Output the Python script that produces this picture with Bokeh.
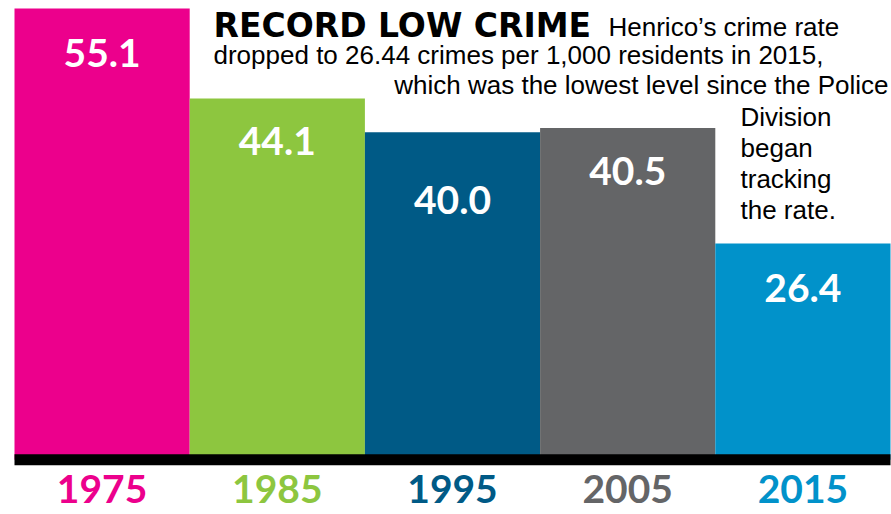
from bokeh.plotting import figure
from bokeh.models import Range1d, ColumnDataSource
from bokeh.core.properties import value
from bokeh.embed import file_html
from bokeh.resources import INLINE

# ---- data ----
years = ["1975", "1985", "1995", "2005", "2015"]
rates = [55.1, 44.1, 40.0, 40.5, 26.4]
rate_labels = ["55.1", "44.1", "40.0", "40.5", "26.4"]
colors = ["#EC008C", "#8DC63F", "#005A86", "#646567", "#0192CA"]

title_bold = "RECORD LOW CRIME"
title_lines = [
    "Henrico\u2019s crime rate",
    "dropped to 26.44 crimes per 1,000 residents in 2015,",
    "which was the lowest level since the Police",
]
side_lines = ["Division", "began", "tracking", "the rate."]

# ---- style / layout ----
W, H = 891, 514
PX_PER_BAR = 175.2          # pixels per category
PX_PER_UNIT = 8.188         # pixels per crime-rate unit
LEFT_PAD_PX = 14            # gap before first bar
TOP_PAD_PX = 8              # gap above tallest bar
BASE_FIX = 0.31             # em shift of alphabetic baseline in renderer
label_drop_px = [57, 55, 80, 55, 57]  # value label baseline below bar top

x_start = -0.5 - LEFT_PAD_PX / PX_PER_BAR
x_end = x_start + W / PX_PER_BAR
y_end = max(rates) + TOP_PAD_PX / PX_PER_UNIT
y_start = y_end - H / PX_PER_UNIT

def X(px):  # page px -> data x
    return x_start + px / PX_PER_BAR

def Y(py, size=0):  # page baseline px -> data y
    return y_end - (py - BASE_FIX * size) / PX_PER_UNIT

p = figure(width=W, height=H, output_backend="svg", toolbar_location=None,
           x_range=Range1d(x_start, x_end), y_range=Range1d(y_start, y_end),
           x_axis_type=None, y_axis_type=None, min_border=0,
           outline_line_color=None, background_fill_color="white",
           border_fill_color="white")
p.grid.visible = False

idx = list(range(len(years)))
VAL_SIZE = 39
src = ColumnDataSource(dict(x=idx, top=rates, color=colors, year=years,
                            lab=rate_labels,
                            lab_off=[d - BASE_FIX * VAL_SIZE for d in label_drop_px]))

p.vbar(x="x", top="top", bottom=0, width=1.0, color="color", source=src,
       line_color=None)

# baseline
p.segment(x0=[-0.5], x1=[len(years) - 0.5], y0=[0], y1=[0],
          line_color="black", line_width=11, line_cap="butt")

# value labels
p.text(x="x", y="top", text="lab", source=src, text_color="white",
       text_font=value("Lato"), text_font_style="bold",
       text_font_size=f"{VAL_SIZE}px", text_align="center",
       text_baseline="alphabetic", y_offset="lab_off")

# year labels
YEAR_SIZE = 39
p.text(x="x", y=Y(501, YEAR_SIZE), text="year", source=src, text_color="color",
       text_font=value("Lato"), text_font_style="bold",
       text_font_size=f"{YEAR_SIZE}px", text_align="center",
       text_baseline="alphabetic")

# headline
HEAD_SIZE = 33
p.text(x=[X(213)], y=[Y(35, HEAD_SIZE)], text=[title_bold], text_color="black",
       text_font=value("DejaVu Sans"), text_font_style="bold",
       text_font_size=f"{HEAD_SIZE}px", text_baseline="alphabetic")

BODY = 26
body_font = value("Liberation Sans")
p.text(x=[X(608)], y=[Y(35, BODY)], text=[title_lines[0]], text_color="black",
       text_font=body_font, text_font_size=f"{BODY}px", text_baseline="alphabetic")
p.text(x=[X(213)], y=[Y(63, BODY)], text=[title_lines[1]], text_color="black",
       text_font=body_font, text_font_size=f"{BODY}px", text_baseline="alphabetic")
p.text(x=[X(888)], y=[Y(93, BODY)], text=[title_lines[2]], text_color="black",
       text_font=body_font, text_font_size=f"{BODY}px", text_baseline="alphabetic",
       text_align="right")
p.text(x=[X(740)] * len(side_lines),
       y=[Y(125 + 31 * i, BODY) for i in range(len(side_lines))],
       text=side_lines, text_color="black", text_font=body_font,
       text_font_size=f"{BODY}px", text_baseline="alphabetic")

open("out.html", "w").write(file_html(p, INLINE))
